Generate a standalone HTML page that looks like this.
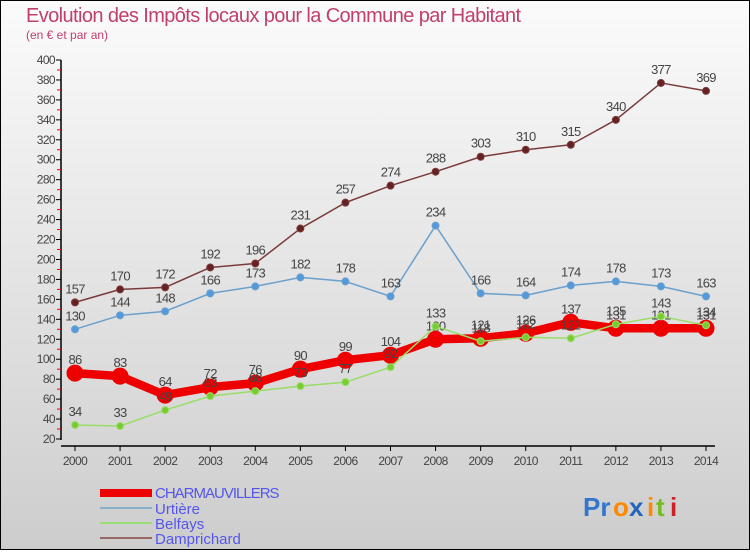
<!DOCTYPE html>
<html><head><meta charset="utf-8"><style>
html,body{margin:0;padding:0;}
body{width:750px;height:550px;overflow:hidden;font-family:"Liberation Sans",sans-serif;}
svg text{font-family:"Liberation Sans",sans-serif;}
</style></head><body>
<svg id="chart" width="750" height="550" xmlns="http://www.w3.org/2000/svg">
<defs><linearGradient id="bg" x1="0" y1="0" x2="0" y2="1"><stop offset="0" stop-color="#fbfbfb"/><stop offset="1" stop-color="#cdcdcd"/></linearGradient></defs>
<rect x="0.5" y="0.5" width="749" height="549" fill="url(#bg)" stroke="#000"/>
<text x="26" y="22" font-size="20" fill="#c0406a" letter-spacing="-0.6">Evolution des Impôts locaux pour la Commune par Habitant</text>
<text x="26" y="39" font-size="12" fill="#c0406a">(en € et par an)</text>
<g id="axes"></g>
<g id="series"></g>
<g id="legend">
<rect x="100" y="489" width="52" height="8" fill="#e00"/>
<text x="155" y="498" font-size="15" fill="#5555ee" letter-spacing="-1">CHARMAUVILLERS</text>
<rect x="100" y="507" width="52" height="2" fill="#8ab0cc"/>
<text x="155" y="514" font-size="15" fill="#5555ee">Urtière</text>
<rect x="100" y="522" width="52" height="2" fill="#99dd77"/>
<text x="155" y="529" font-size="15" fill="#5555ee">Belfays</text>
<rect x="100" y="537" width="52" height="2" fill="#996666"/>
<text x="155" y="544" font-size="15" fill="#5555ee">Damprichard</text>
</g>
<g font-size="26" font-weight="bold">
<text x="583" y="516" fill="#3377cc">Pr</text><text x="613" y="516" fill="#ff8800">o</text><text x="629" y="516" fill="#2266bb">x</text><text x="647" y="516" fill="#ff8800">i</text><text x="656" y="516" fill="#77bb22">t</text><text x="670" y="516" fill="#cc2222">i</text>
</g>
</svg>
<script>
const years=["2000","2001","2002","2003","2004","2005","2006","2007","2008","2009","2010","2011","2012","2013","2014"];
const charmauvillers=[86,83,64,72,76,90,99,104,120,121,126,137,131,131,131];
const urtiere=[130,144,148,166,173,182,178,163,234,166,164,174,178,173,163];
const belfays=[34,33,49,63,68,73,77,92,133,118,122,121,135,143,134];
const damprichard=[157,170,172,192,196,231,257,274,288,303,310,315,340,377,369];
const yTicks=[20,40,60,80,100,120,140,160,180,200,220,240,260,280,300,320,340,360,380,400];
const NS="http://www.w3.org/2000/svg";
const X=i=>75+i*(706-75)/(years.length-1);
const Y=v=>439-(v-20)*379/380;
function el(tag,attrs,parent,txt){const e=document.createElementNS(NS,tag);for(const k in attrs)e.setAttribute(k,attrs[k]);if(txt!==undefined)e.textContent=txt;parent.appendChild(e);return e;}
const axes=document.getElementById('axes');
let a=el('line',{x1:61,y1:Y(400),x2:61,y2:Y(20)+1,stroke:'#000','stroke-width':1.5},axes);


a=el('line',{x1:61,y1:446,x2:715,y2:446,stroke:'#000','stroke-width':1.5},axes);


yTicks.forEach(v=>{
 el('line',{x1:56,y1:Y(v),x2:61,y2:Y(v),stroke:'#000'},axes);
 if(v<400) el('line',{x1:57,y1:Y(v+10),x2:61,y2:Y(v+10),stroke:'#e00'},axes);
 const t=el('text',{x:55,y:Y(v)+4,'font-size':12,fill:'#444','text-anchor':'end','letter-spacing':'-0.6'},axes,v);
 
 
});
years.forEach((y,i)=>{
 el('line',{x1:X(i),y1:446,x2:X(i),y2:451,stroke:'#000'},axes);
 const t=el('text',{x:X(i),y:465,'font-size':12,fill:'#444','text-anchor':'middle','letter-spacing':'-0.6'},axes,y);
 
 
});
const sg=document.getElementById('series');
function draw(name,data,color,w,r,fill){
 const g=el('g',{},sg);
 
 
 const p=el('polyline',{points:data.map((v,i)=>X(i)+','+Y(v)).join(' '),fill:'none',stroke:color,'stroke-width':w,'stroke-linejoin':'round'},g);
 
 
 data.forEach((v,i)=>{
  const c=el('circle',{cx:X(i),cy:Y(v),r:r,fill:fill,stroke:color,'stroke-width':1},g);
  
  
  const t=el('text',{x:X(i),y:Y(v)-9,'font-size':13,fill:'#444','text-anchor':'middle','letter-spacing':'-0.7'},g,v);
  
  
 });
}
draw('damprichard',damprichard,'#7a3a3a',1.5,3.5,'#662222');
draw('urtiere',urtiere,'#6aa0cc',1.5,3.5,'#5599dd');
draw('charmauvillers',charmauvillers,'#e00',8.5,8,'#e00');
draw('belfays',belfays,'#99dd66',1.5,3.5,'#77cc33');
</script>
</body></html>
